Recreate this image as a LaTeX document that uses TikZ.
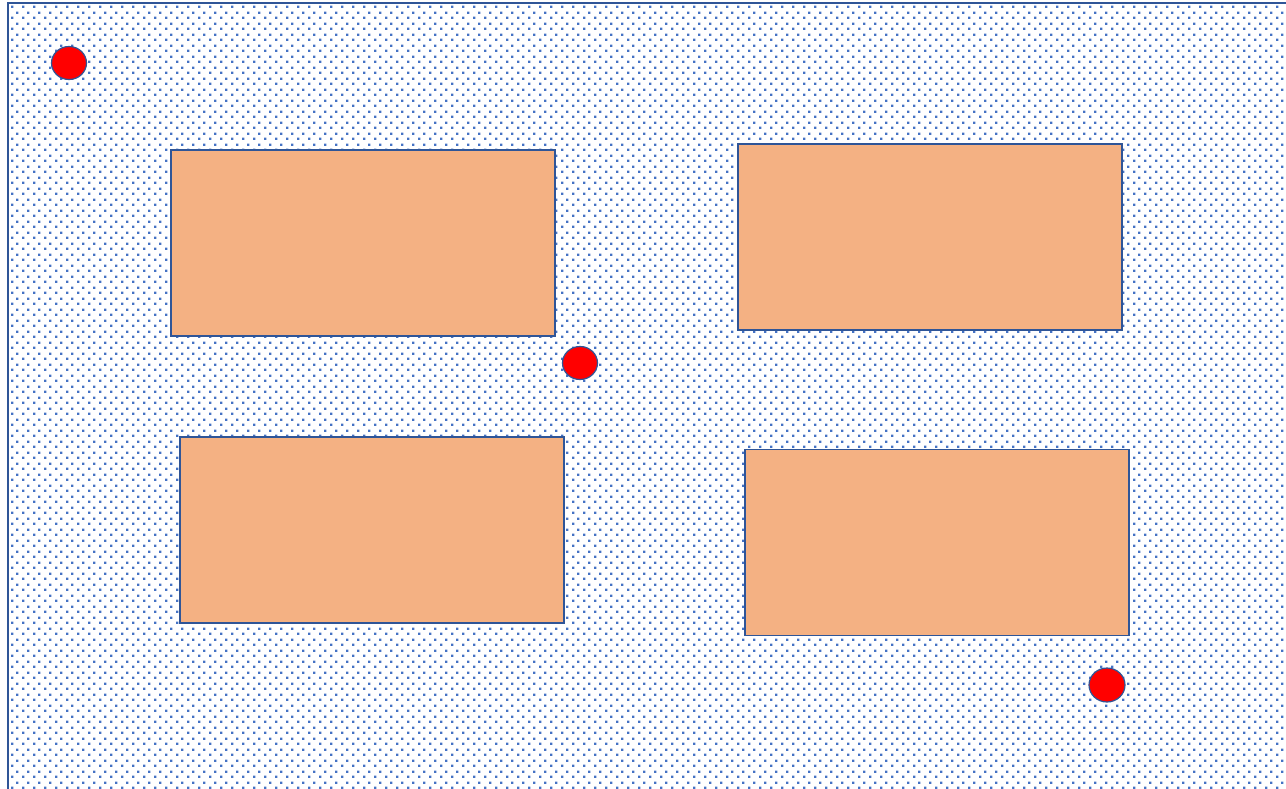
\documentclass[tikz,border=0pt]{standalone}
\usepackage{tikz}
\usetikzlibrary{patterns,shapes.geometric}

\definecolor{dotblue}{RGB}{68,114,196}
\definecolor{edgeblue}{RGB}{47,85,151}
\definecolor{boxorange}{RGB}{244,177,131}

\pgfdeclarepatternformonly{bluedots}{\pgfpointorigin}{\pgfpoint{11pt}{11pt}}{\pgfpoint{11pt}{11pt}}{%
  \pgfpathrectangle{\pgfpoint{0pt}{0pt}}{\pgfpoint{2.6pt}{2.6pt}}%
  \pgfpathrectangle{\pgfpoint{5.5pt}{5.5pt}}{\pgfpoint{2.6pt}{2.6pt}}%
  \pgfusepath{fill}}

\begin{document}
\begin{tikzpicture}[
  x=1pt, y=-1pt,
  box/.style={draw=edgeblue, line width=1.6pt, fill=boxorange, minimum width=384pt, minimum height=186pt, inner sep=0pt},
  marker/.style={draw=edgeblue, line width=1.2pt, fill=red, ellipse, minimum width=35pt, minimum height=33pt, inner sep=0pt},
  frame/.style={draw=edgeblue, line width=1.6pt, pattern=bluedots, pattern color=dotblue}
]
\useasboundingbox (0,0) rectangle (1286,788);
\clip (0,0) rectangle (1286,788);
\path[fill=white] (0,0) rectangle (1286,788);
\draw[frame] (8,3) rectangle (1300,800);

\node[box] (topleft) at (363,243) {};
\node[box] (topright) at (930,237) {};
\node[box] (bottomleft) at (372,530) {};
\node[box] (bottomright) at (937,542.5) {};

\node[marker] (cornerdot) at (69,63) {};
\node[marker] (middot) at (580,363) {};
\node[marker, minimum width=36pt, minimum height=34pt] (lowdot) at (1107,685) {};
\end{tikzpicture}
\end{document}
